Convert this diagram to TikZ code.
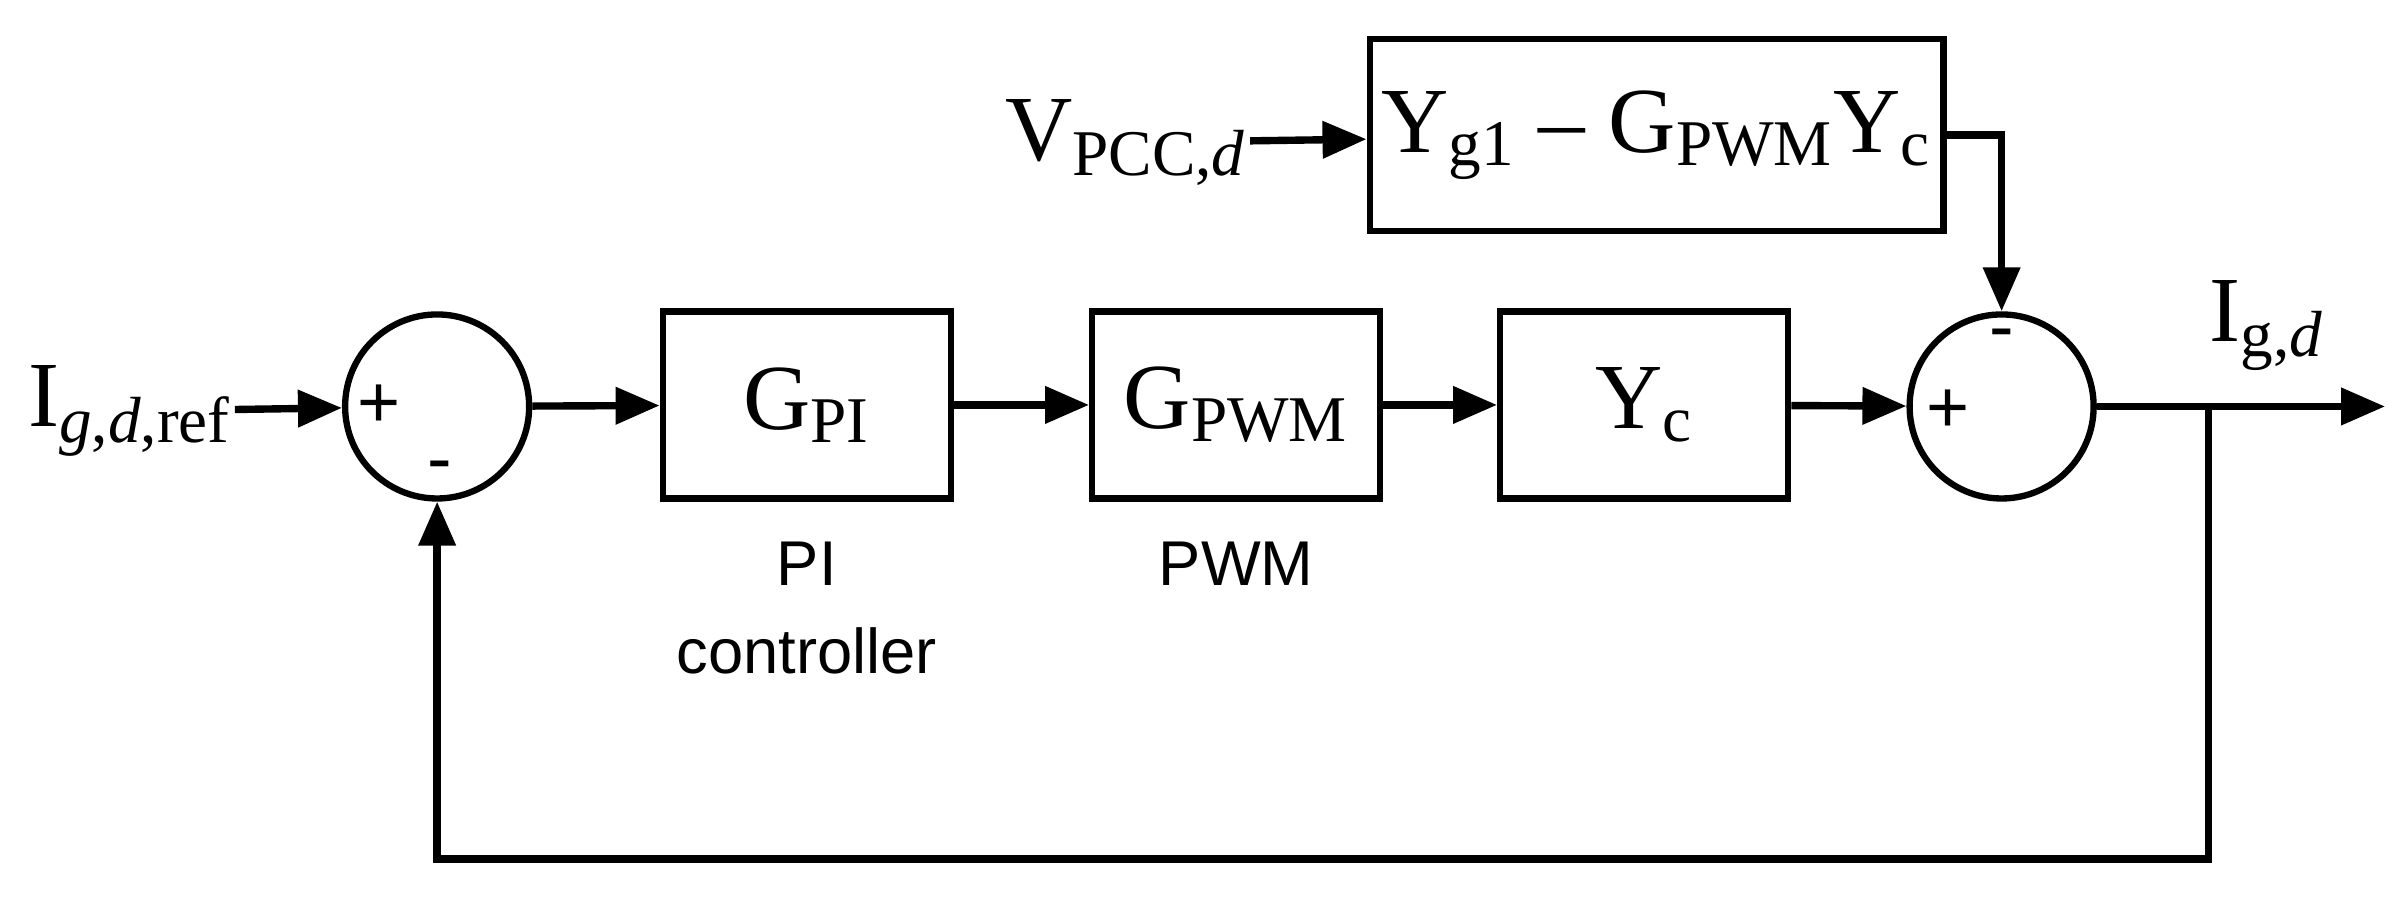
\documentclass[tikz,border=0pt]{standalone}
\usepackage{fontspec}
\setmainfont{Liberation Serif}
\newfontfamily\labelfont{Liberation Sans}
\usetikzlibrary{arrows.meta, positioning}

\begin{document}
\begin{tikzpicture}[x=0.01534cm,y=-0.01534cm,->,>={Triangle[length=0.44cm,width=0.36cm]},line width=2.1pt]
 % styles
 \tikzstyle{block} = [rectangle,draw=black,line width=1.8pt,minimum width=2.88cm,minimum height=1.87cm,font=\fontsize{26.5}{30}\selectfont];
 \tikzstyle{summer} = [circle,draw=black,line width=1.8pt,minimum size=1.84cm,inner sep=0pt];
 \tikzstyle{sig} = [font=\fontsize{26.5}{30}\selectfont,inner sep=0pt];
 \tikzstyle{sign} = [font=\labelfont\fontsize{21}{24}\selectfont,inner sep=0pt];
 \tikzstyle{caption} = [font=\labelfont\fontsize{18}{25}\selectfont,align=center];

 \useasboundingbox (0,0) rectangle (1568,592);

 % nodes
 \node[sig,anchor=west] (iref) at (16,268) {I\textsubscript{\textit{g},\textit{d},ref}};
 \node[summer] (sum1) at (285,265) {};
 \node[block] (gpi) at (526,264) {G\textsubscript{PI}};
 \node[block] (gpwm) at (806,264) {G\textsubscript{PWM}};
 \node[block] (yc) at (1072,264) {Y\textsubscript{c}};
 \node[summer] (sum2) at (1305,265) {};
 \node[block,minimum width=5.37cm,minimum height=1.92cm] (yg) at (1080,88) {Y\textsubscript{g1} -- G\textsubscript{PWM}Y\textsubscript{c}};
 \node[sig,anchor=east] (vpcc) at (815,93) {V\textsubscript{PCC,\textit{d}}};
 \node[sig] (igd) at (1478,212) {I\textsubscript{g,\textit{d}}};
 \coordinate (out) at (1555,265);
 \coordinate (tap) at (1440,265);
 \coordinate (low) at (1440,560);

 \node[caption,below=0.25cm of gpi] {PI\\controller};
 \node[caption,below=0.25cm of gpwm] {PWM};

 \node[sign] at (247,265) {+};
 \node[sign] at (287,308) {-};
 \node[sign] at (1270,268) {+};
 \node[sign] at (1305,222) {-};

 % edges
 \draw (iref) -- (sum1);
 \draw (sum1) -- (gpi);
 \draw (gpi) -- (gpwm);
 \draw (gpwm) -- (yc);
 \draw (yc) -- (sum2);
 \draw (sum2) -- (out);
 \draw (vpcc) -- (yg);
 \draw (yg.east) -| (sum2.north);
 \draw (tap) -- (low) -| (sum1.south);
\end{tikzpicture}
\end{document}
